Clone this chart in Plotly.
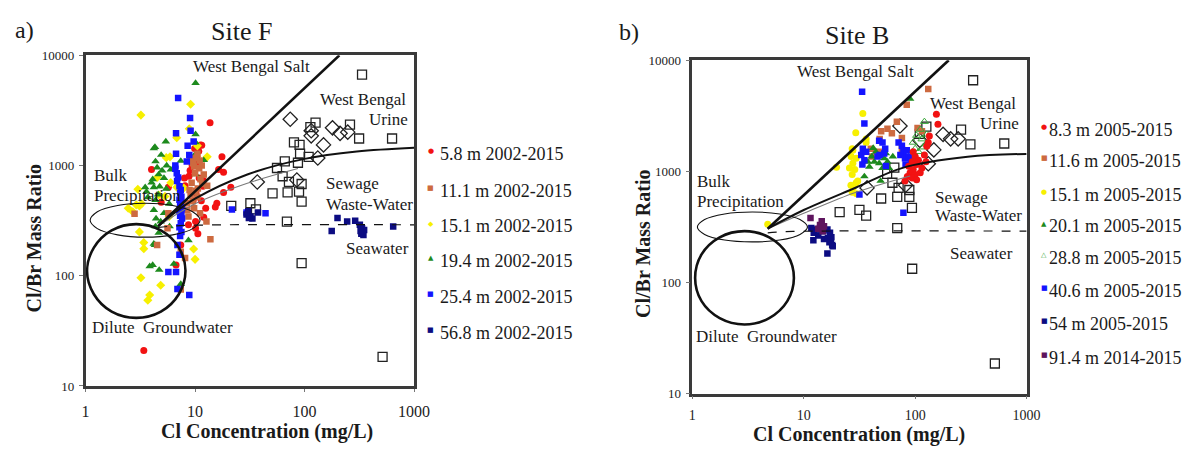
import plotly.graph_objects as go

W, H = 1197, 452
SERIF = "Liberation Serif"

# ---------------- tick labels ----------------
x_tickvals = [1, 10, 100, 1000]
x_ticktext = ["1", "10", "100", "1000"]
y_tickvals = [10, 100, 1000, 10000]
y_ticktext = ["10", "100", "1000", "10000"]

# ---------------- Panel a: Site F ----------------
a_red_cl = [13.7, 11.2, 9.9, 8.0, 8.8, 10.9, 8.1, 17.6, 18.2, 16.4, 21.2, 18.2, 15.8, 15.3, 12.5, 10.1, 8.7, 10.1,
            10.6, 7.4, 6.7, 3.4, 4.9, 4.0, 5.7, 11.5, 10.4, 9.4, 9.0, 10.5, 11.8, 10.2, 9.6, 11.4, 12.0, 10.8,
            9.2, 11.9]
a_red_r = [2440, 1540, 1430, 770, 800, 770, 655, 1200, 870, 920, 635, 570, 455, 420, 410, 310, 290, 270,
           240, 190, 125, 21, 465, 920, 635, 1530, 1200, 1000, 900, 1050, 650, 560, 480, 480, 340, 1350,
           1150, 730]

a_brown_cl = [9.8, 10.9, 11.2, 12.0, 10.1, 10.5, 9.5, 11.6, 12.9, 9.1, 8.4, 8.5, 11.1, 12.7, 13.8, 5.7, 2.8, 4.5,
              8.1, 7.4, 5.6, 9.8, 8.7, 10.5, 11.0, 9.1, 7.4, 10.0, 9.3, 10.6, 11.5, 9.6, 10.3, 8.9]
a_brown_r = [980, 945, 750, 830, 590, 515, 475, 680, 655, 545, 455, 395, 370, 310, 215, 370, 365, 190,
             145, 165, 270, 410, 345, 1280, 1110, 1160, 75, 850, 700, 620, 1000, 1050, 1180, 600]

a_yellow_cl = [3.2, 9.1, 5.45, 5.3, 3.1, 2.7, 2.9, 3.25, 6.8, 6.0, 4.5, 3.1, 3.4, 3.4, 3.2, 4.85, 3.85, 3.7, 10.0,
               9.7, 5.8, 10.5, 8.85, 12.9, 7.9, 4.65, 2.45, 6.8, 5.9, 3.0]
a_yellow_r = [2870, 3600, 1180, 525, 430, 380, 440, 450, 635, 700, 780, 250, 200, 176, 96, 82, 67, 60, 141,
              175, 345, 1510, 2160, 1200, 625, 540, 410, 1790, 1200, 610]

a_green_cl = [10.1, 10.1, 10.1, 5.4, 4.2, 7.4, 4.35, 6.0, 4.5, 4.65, 4.1, 4.2, 5.2, 4.75, 5.45, 4.6, 4.35, 4.2,
              5.2, 4.4, 4.85, 4.35, 4.65, 5.85, 4.2, 3.85, 7.4, 6.4, 8.7, 3.5, 3.7, 10.1, 12.0, 9.9, 4.1, 4.7,
              4.3, 4.3, 5.0, 5.5, 3.6, 4.0, 4.9, 5.8]
a_green_r = [5600, 1920, 1620, 1650, 1430, 1100, 1090, 920, 960, 830, 750, 635, 770, 645, 615, 545, 485, 395,
             370, 330, 310, 280, 245, 280, 195, 122, 84, 128, 210, 635, 515, 830, 1120, 1245, 125, 113,
             190, 1470, 900, 1000, 580, 700, 1250, 450]

a_blue_cl = [7.0, 9.0, 6.7, 9.1, 9.7, 8.55, 6.7, 8.4, 8.85, 6.6, 6.85, 7.2, 7.4, 7.3, 7.5, 7.2, 7.4, 7.3, 7.6,
             7.2, 7.5, 7.3, 7.6, 7.4, 7.2, 7.5, 7.3, 6.9, 7.2, 5.7, 6.7, 6.9, 8.85, 21.7, 29.5, 44.0, 6.6,
             6.8, 7.0]
a_blue_r = [4100, 2700, 1960, 2070, 1650, 1510, 1280, 1090, 1245, 935, 724, 650, 600, 560, 520, 490, 460, 430,
            410, 390, 370, 350, 330, 300, 275, 250, 230, 190, 155, 108, 108, 76, 67, 400, 375, 370, 1000,
            850, 780]

a_navy_cl = [30.6, 32.0, 29.5, 33.4, 37.5, 31.0, 200, 177, 245, 290, 320, 335, 340, 330, 350, 345, 325, 645]
a_navy_r = [385, 345, 360, 330, 375, 335, 335, 255, 310, 315, 290, 270, 250, 240, 260, 235, 255, 280]

a_sq_cl = [335, 126, 260, 113, 315, 630, 80, 90, 91, 109, 66, 87, 56, 63, 72, 94, 70, 51, 89, 94, 32, 21.4, 36,
           69, 94, 516]
a_sq_r = [6680, 2450, 2350, 2230, 1760, 1760, 1620, 1540, 1280, 1200, 1090, 1060, 950, 800, 710, 680, 570, 560,
          580, 470, 455, 430, 400, 310, 130, 18.4]

a_dia_cl = [74, 115, 115, 180, 211, 248, 149, 132, 85, 37]
a_dia_r = [2630, 2070, 1860, 2200, 1960, 2010, 1540, 1170, 740, 710]

# end-member / mixing lines
a_salt_cl = [4.6, 208]
a_salt_r = [282, 10000]
a_sewage_cl = [4.6, 6, 10, 30, 100, 300, 1000]
a_sewage_r = [282, 350, 500, 830, 1150, 1340, 1450]
a_thin_cl = [4.6, 10, 30, 87]
a_thin_r = [282, 450, 690, 940]
a_sea_cl = [4.6, 8, 1000]
a_sea_r = [275, 286, 290]

# outlines (closed loops)
a_bulk_cl = [11.1, 9.5, 6.24, 3.5, 1.96, 1.28, 1.1, 1.28, 1.96, 3.5, 6.24, 9.5, 11.1]
a_bulk_r = [319, 381, 434, 455, 434, 381, 319, 268, 235, 224, 235, 268, 319]
a_dilute_cl = [8.17, 7.1, 4.87, 2.9, 1.73, 1.19, 1.03, 1.19, 1.73, 2.9, 4.87, 7.1, 8.17]
a_dilute_r = [111, 180, 258, 294, 258, 180, 111, 68, 47.3, 41.5, 47.3, 68, 111]

# ---------------- Panel b: Site B ----------------
b_red_cl = [155, 160, 96, 100, 107, 94, 87.5, 103, 115, 96, 90, 100, 85, 94, 81, 103, 111, 121, 125, 134, 131, 127]
b_red_r = [3260, 2650, 1500, 1360, 1260, 1220, 1110, 1150, 1070, 1040, 970, 935, 900, 870, 818, 840, 970, 1400,
           1220, 2080, 1820, 1680]

b_orange_cl = [131, 84, 68.5, 56.4, 49.5, 61.8, 48, 76, 105, 115, 40, 47.5, 41, 76]
b_orange_r = [5500, 3980, 2800, 2420, 2300, 2200, 1950, 2000, 2450, 2300, 1600, 1500, 1360, 1600]

b_yellow_cl = [4.75, 33.9, 29.3, 36.3, 27.2, 27.6, 26.6, 29.5, 27.6, 25.7, 28.7, 27.2, 19.7, 29.5, 27.8, 30.5,
               27.2, 36.3, 29.8, 26.5]
b_yellow_r = [335, 3320, 2230, 1820, 1600, 1550, 1360, 1310, 1180, 1070, 1040, 935, 1090, 790, 716, 818,
              650, 1950, 630, 750]

b_green_cl = [90, 42, 44.4, 40.8, 37.6, 43, 47.5, 52.7, 54.6, 50.9, 58.2, 35, 49, 56.4, 63, 38.8]
b_green_r = [4490, 1620, 1500, 1360, 1220, 1220, 1180, 1310, 1450, 1070, 1070, 900, 820, 1220, 1360, 1100]

b_green_open_cl = [121, 111, 103, 96, 115, 125, 100, 90, 107, 127, 118, 95]
b_green_open_r = [2800, 2380, 2100, 1820, 1950, 1760, 1600, 1400, 1500, 2150, 1650, 1300]

b_blue_cl = [33.4, 35, 33.9, 32.8, 35, 33.6, 36.3, 47.5, 50.9, 53.8, 52.7, 46, 54.6, 71, 76, 78.4, 81, 73.7,
             84, 87.5, 82, 92, 48, 31.6, 78.4]
b_blue_r = [5200, 2700, 1600, 1400, 1260, 1150, 1500, 1880, 1820, 1600, 1450, 1360, 1120, 1820, 1700, 1500,
            1310, 1400, 1550, 1360, 1150, 1260, 1400, 620, 425]

b_navy_cl = [11.7, 12.3, 13.1, 14, 15, 16.3, 17.2, 17.7, 17, 18, 16.3, 12.2, 13.5, 15.2, 16.5, 18.2, 17.5]
b_navy_r = [310, 281, 300, 310, 290, 300, 281, 255, 230, 218, 182, 240, 265, 246, 250, 212, 238]

b_purple_cl = [11.5, 14.5, 14, 15.2, 13.5, 14.8]
b_purple_r = [380, 355, 330, 321, 305, 290]

b_sq_cl = [331, 126, 258, 313, 630, 110, 65, 56, 62.5, 71, 88.6, 69, 88.6, 93.5, 49.5, 21, 31.6, 36.3, 69, 94, 519]
b_sq_r = [6600, 2530, 2370, 1750, 1780, 2170, 1080, 950, 790, 710, 680, 590, 590, 470, 570, 430, 450, 400,
          309, 133, 18.7]

b_dia_cl = [73, 178, 208, 243, 147, 131, 82, 37, 110]
b_dia_r = [2560, 2150, 1960, 1960, 1560, 1170, 750, 710, 1900]

b_salt_cl = [4.75, 200]
b_salt_r = [305, 10000]
b_sewage_cl = [4.75, 10, 29.5, 76, 296, 1000]
b_sewage_r = [305, 449, 716, 1070, 1350, 1435]
b_thin_cl = [4.75, 10, 29.5, 90]
b_thin_r = [305, 420, 650, 910]
b_sea_cl = [4.75, 8, 1000]
b_sea_r = [280, 288, 290]

b_bulk_cl = [10.8, 9.25, 6.1, 3.45, 1.95, 1.29, 1.11, 1.29, 1.95, 3.45, 6.1, 9.25, 10.8]
b_bulk_r = [316, 369, 414, 431, 414, 369, 316, 271, 241, 232, 241, 271, 316]
b_dilute_cl = [8.16, 7.12, 4.9, 2.94, 1.76, 1.21, 1.06, 1.21, 1.76, 2.94, 4.9, 7.12, 8.16]
b_dilute_r = [110, 179, 255, 290, 255, 179, 110, 68, 47.9, 42, 47.9, 68, 110]

# legends
a_labels = ["5.8 m 2002-2015", "11.1 m 2002-2015", "15.1 m 2002-2015", "19.4 m 2002-2015",
            "25.4 m 2002-2015", "56.8 m 2002-2015"]
b_labels = ["8.3 m 2005-2015", "11.6 m 2005-2015", "15.1 m 2005-2015", "20.1 m 2005-2015",
            "28.8 m 2005-2015", "40.6 m 2005-2015", "54 m 2005-2015", "91.4 m 2014-2015"]

RED = "#f21212"
BROWN = "#cd6a40"
YELLOW = "#f7f000"
GREEN = "#1d8a1d"
LGREEN = "#3aa83a"
BLUE = "#1414ff"
NAVY = "#0c0c82"
PURPLE = "#5e145e"

fig = go.Figure()


def pts(cl, r, xa, ya, symbol, color, size, lw=0, lc=None):
    fig.add_trace(go.Scatter(
        x=cl, y=r, xaxis=xa, yaxis=ya, mode="markers", showlegend=False, hoverinfo="x+y",
        marker=dict(symbol=symbol, color=color, size=size,
                    line=dict(width=lw, color=lc if lc else color))))


def line(cl, r, xa, ya, color, width, dash="solid", shape="spline"):
    fig.add_trace(go.Scatter(
        x=cl, y=r, xaxis=xa, yaxis=ya, mode="lines", showlegend=False, hoverinfo="skip",
        line=dict(color=color, width=width, dash=dash, shape=shape, smoothing=1.0)))


# Panel a markers
pts(a_sq_cl, a_sq_r, "x", "y", "square-open", "#222", 9, 1.3, "#222")
pts(a_dia_cl, a_dia_r, "x", "y", "diamond-open", "#222", 11, 1.3, "#222")
pts(a_red_cl, a_red_r, "x", "y", "circle", RED, 7)
pts(a_yellow_cl, a_yellow_r, "x", "y", "diamond", YELLOW, 7)
pts(a_green_cl, a_green_r, "x", "y", "triangle-up", GREEN, 7.5)
pts(a_brown_cl, a_brown_r, "x", "y", "square", BROWN, 6.5)
pts(a_blue_cl, a_blue_r, "x", "y", "square", BLUE, 6.5)
pts(a_navy_cl, a_navy_r, "x", "y", "square", NAVY, 6.5)

# Panel b markers
pts(b_sq_cl, b_sq_r, "x2", "y2", "square-open", "#222", 9, 1.3, "#222")
pts(b_dia_cl, b_dia_r, "x2", "y2", "diamond-open", "#222", 11, 1.3, "#222")
pts(b_orange_cl, b_orange_r, "x2", "y2", "square", BROWN, 6.5)
pts(b_yellow_cl, b_yellow_r, "x2", "y2", "circle", YELLOW, 7)
pts(b_green_cl, b_green_r, "x2", "y2", "triangle-up", GREEN, 7.5)
pts(b_green_open_cl, b_green_open_r, "x2", "y2", "triangle-up-open", LGREEN, 7, 1, LGREEN)
pts(b_blue_cl, b_blue_r, "x2", "y2", "square", BLUE, 6.5)
pts(b_red_cl, b_red_r, "x2", "y2", "circle", RED, 7)
pts(b_navy_cl, b_navy_r, "x2", "y2", "square", NAVY, 6.5)
pts(b_purple_cl, b_purple_r, "x2", "y2", "square", PURPLE, 6.5)

# lines and outlines
for xa, ya, salt, sew, thin, sea, bulk, dil in [
    ("x", "y", (a_salt_cl, a_salt_r), (a_sewage_cl, a_sewage_r), (a_thin_cl, a_thin_r), (a_sea_cl, a_sea_r),
     (a_bulk_cl, a_bulk_r), (a_dilute_cl, a_dilute_r)),
    ("x2", "y2", (b_salt_cl, b_salt_r), (b_sewage_cl, b_sewage_r), (b_thin_cl, b_thin_r), (b_sea_cl, b_sea_r),
     (b_bulk_cl, b_bulk_r), (b_dilute_cl, b_dilute_r)),
]:
    line(thin[0], thin[1], xa, ya, "#7a7a7a", 1.1)
    line(sea[0], sea[1], xa, ya, "#111", 1.2, dash="dash")
    line(sew[0], sew[1], xa, ya, "#111", 2.0)
    line(salt[0], salt[1], xa, ya, "#111", 2.6, shape="linear")
    line(bulk[0], bulk[1], xa, ya, "#111", 1.1)
    line(dil[0], dil[1], xa, ya, "#111", 2.6)


def px(x):
    return x / W


def py(y):
    return 1 - y / H


ann = []


def txt(text, x, y, size, xanchor="left", bold=False, angle=0, color="#1a1a1a", family=SERIF):
    ann.append(dict(text=f"<b>{text}</b>" if bold else text, x=px(x), y=py(y), xref="paper", yref="paper",
                    xanchor=xanchor, yanchor="middle", showarrow=False, textangle=angle,
                    borderpad=0, font=dict(family=family, size=size, color=color)))


# titles
txt("a)", 10, 24, 24)
txt("Site F", 242, 25, 26, "center")
txt("b)", 624, 26, 24)
txt("Site B", 868, 29, 26, "center")

# axis titles
txt("Cl Concentration (mg/L)", 267, 439, 20, "center", bold=True)
txt("Cl/Br Mass Ratio", 31, 239, 20, "center", bold=True, angle=-90)
txt("Cl Concentration (mg/L)", 870, 442, 20, "center", bold=True)
txt("Cl/Br Mass Ratio", 650, 245, 20, "center", bold=True, angle=-90)

# region labels, panel a
LS = 17
txt("West Bengal Salt", 191, 62, LS)
txt("West Bengal", 320, 96, LS)
txt("Urine", 412, 116, LS, "right")
txt("Bulk", 91, 174, LS)
txt("Precipitation", 91, 195, LS)
txt("Sewage", 326, 183, LS)
txt("Waste-Water", 326, 204, LS)
txt("Seawater", 347, 250, LS)
txt("Dilute\u00a0 Groundwater", 88, 332, LS)
# region labels, panel b
txt("West Bengal Salt", 805, 67, LS)
txt("West Bengal", 941, 100, LS)
txt("Urine", 1033, 121, LS, "right")
txt("Bulk", 704, 181, LS)
txt("Precipitation", 704, 201, LS)
txt("Sewage", 946, 197, LS)
txt("Waste-Water", 946, 216, LS)
txt("Seawater", 961, 255, LS)
txt("Dilute\u00a0 Groundwater", 703, 341, LS)

# legends (key glyph + label)
a_keys = [("●", RED), ("■", BROWN), ("◆", YELLOW), ("▲", GREEN), ("■", BLUE), ("■", NAVY)]
a_ys = [152, 190, 227, 263, 300, 337]
for (g, c), lab, y in zip(a_keys, a_labels, a_ys):
    txt(g, 434, y - 3, 7, "center", color=c, family="DejaVu Sans")
    txt(lab, 442, y, 18)

b_keys = [("●", RED), ("■", BROWN), ("●", YELLOW), ("▲", GREEN), ("△", LGREEN), ("■", BLUE), ("■", NAVY),
          ("■", PURPLE)]
b_ys = [127, 159, 194, 227, 260, 294, 328, 363]
for (g, c), lab, y in zip(b_keys, b_labels, b_ys):
    txt(g, 1058, y - 3, 7, "center", color=c, family="DejaVu Sans")
    txt(lab, 1062, y, 18)


def xaxis(domain, anchor, fs, standoff):
    return dict(type="log", range=[0, 3], domain=domain, anchor=anchor, showgrid=False, zeroline=False,
                showline=True, mirror=True, linecolor="#3a3a3a", linewidth=2.5,
                ticks="outside", ticklen=3, tickcolor="#777", tickwidth=1,
                tickvals=x_tickvals, ticktext=x_ticktext, ticklabelstandoff=standoff,
                tickfont=dict(family=SERIF, size=fs, color="#222"))


def yaxis(domain, anchor):
    return dict(type="log", range=[1, 4], domain=domain, anchor=anchor, showgrid=False, zeroline=False,
                showline=True, mirror=True, linecolor="#3a3a3a", linewidth=2.5,
                ticks="outside", ticklen=4, tickcolor="#777", tickwidth=1,
                tickvals=y_tickvals, ticktext=y_ticktext, ticklabelstandoff=2,
                tickfont=dict(family=SERIF, size=13, color="#222"))


fig.update_layout(
    width=W, height=H, autosize=False,
    margin=dict(l=0, r=0, t=0, b=0),
    paper_bgcolor="white", plot_bgcolor="white",
    showlegend=False,
    xaxis=xaxis([px(83), px(417)], "y", 16, 6),
    yaxis=yaxis([py(392), py(50)], "x"),
    xaxis2=xaxis([px(700), px(1040)], "y2", 14, 4),
    yaxis2=yaxis([py(400), py(55)], "x2"),
    annotations=ann,
)

fig.write_html("out.html")
